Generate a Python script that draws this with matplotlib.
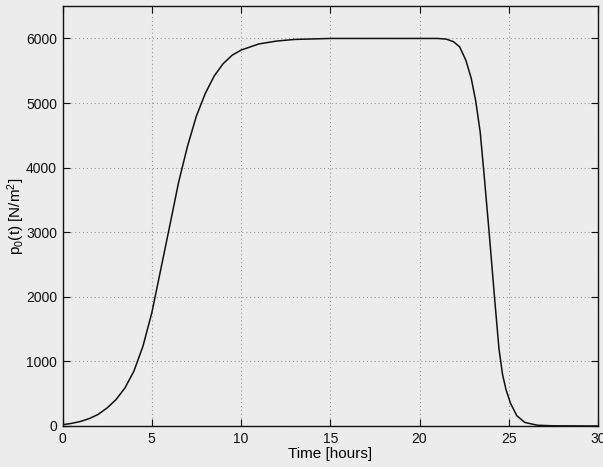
import matplotlib
matplotlib.use('Agg')
from matplotlib import pyplot as plt

# time axis [hours] and pressure p0(t) [N/m^2]
rise_t = [0, 0.5, 1, 1.5, 2, 2.5, 3, 3.5, 4, 4.5, 5, 5.5, 6, 6.5, 7, 7.5,
          8, 8.5, 9, 9.5, 10, 11, 12, 13, 15, 18]
rise_p = [20, 40, 70, 115, 180, 280, 410, 590, 850, 1230, 1750, 2420, 3090,
          3770, 4330, 4800, 5150, 5420, 5610, 5740, 5820, 5915, 5960, 5985,
          6000, 6000]
fall_t = [21, 21.5, 21.9, 22.25, 22.6, 22.9, 23.15, 23.4, 23.6, 23.9, 24.2,
          24.45, 24.65, 24.85, 25.1, 25.45, 25.9, 26.6, 27.5, 30]
fall_p = [6000, 5990, 5950, 5870, 5660, 5380, 5030, 4550, 3950, 3000, 2000,
          1200, 800, 560, 350, 160, 55, 12, 3, 0]

x_ticks = [0, 5, 10, 15, 20, 25, 30]
y_ticks = [0, 1000, 2000, 3000, 4000, 5000, 6000]

plt.rcParams['font.family'] = ['Liberation Sans', 'DejaVu Sans']
plt.rcParams['mathtext.fontset'] = 'custom'
plt.rcParams['mathtext.rm'] = 'Liberation Sans'
plt.rcParams['mathtext.it'] = 'Liberation Sans'

bg = '#ececec'
fig = plt.figure(figsize=(6.03, 4.67), dpi=100, facecolor=bg)
ax = fig.add_axes([0.1037, 0.0878, 0.888, 0.899], facecolor=bg)

ax.plot(rise_t + fall_t, rise_p + fall_p, color='#111111', linewidth=1.1)

ax.set_xlim(0, 30)
ax.set_ylim(0, 6500)
ax.set_xticks(x_ticks)
ax.set_yticks(y_ticks)
ax.grid(True, linestyle=(0, (1, 2.5)), color='#9a9a9a', linewidth=0.8)
ax.tick_params(direction='in', top=True, right=True, length=5,
               labelsize=10, colors='#111111', pad=4)
for s in ax.spines.values():
    s.set_linewidth(1.0)
    s.set_color('#111111')

ax.set_xlabel('Time [hours]', fontsize=11, labelpad=1)
ax.set_ylabel(r'p$_0$(t) [N/m$^2$]', fontsize=11)
ax.yaxis.set_label_coords(-0.066, 0.5)

fig.savefig('out.png', dpi=100, facecolor=bg)
